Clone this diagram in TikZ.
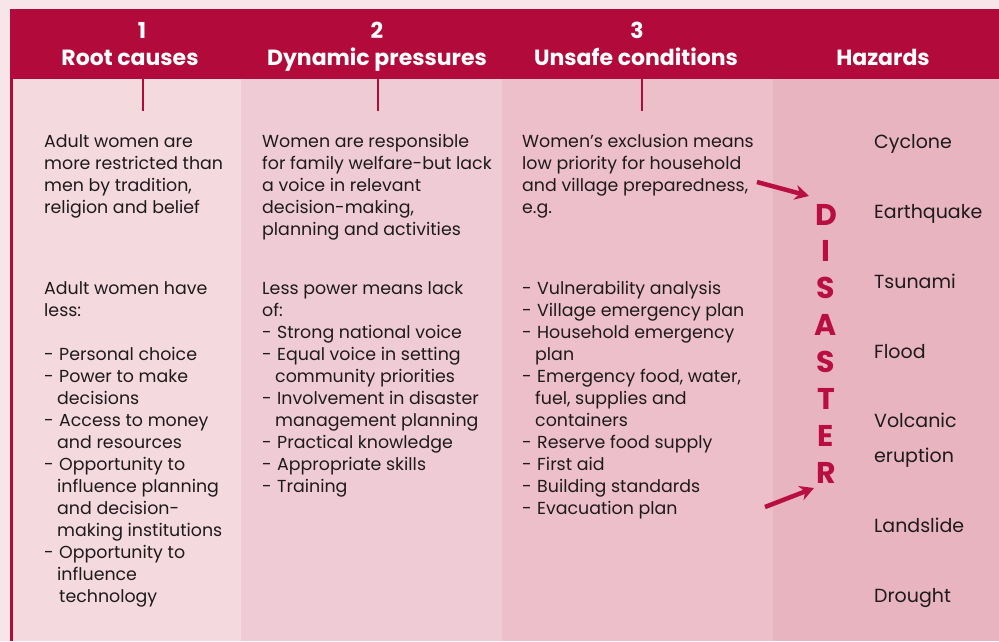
\documentclass[tikz,border=0pt]{standalone}
\usepackage{fontspec}
\setmainfont{Poppins}
\usetikzlibrary{arrows.meta}

\definecolor{bgout}{HTML}{F8E5EA}
\definecolor{colA}{HTML}{F4D9DF}
\definecolor{colB}{HTML}{EFCCD5}
\definecolor{colC}{HTML}{ECBFCA}
\definecolor{colD}{HTML}{E8B4C0}
\definecolor{crim}{HTML}{B20A3A}
\definecolor{dis}{HTML}{B80F40}
\definecolor{textc}{HTML}{1E1A1C}

\newcommand{\itm}[1]{\makebox[15pt][l]{-}#1}
\newcommand{\cnt}{\hspace*{13pt}}

\begin{document}
\begin{tikzpicture}[x=1pt,y=-1pt,
	body/.style={anchor=north west,align=left,inner sep=0pt,text=textc,
		font=\fontsize{17.4}{22}\selectfont,execute at begin node=\strut},
	head/.style={anchor=base,inner sep=0pt,text=white,font=\bfseries\fontsize{22}{24}\selectfont},
	haz/.style={anchor=base west,inner sep=0pt,text=textc,font=\fontsize{19}{22}\selectfont},
	letter/.style={anchor=base,inner sep=0pt,text=dis,font=\bfseries\fontsize{30}{30}\selectfont},
	tick/.style={draw=crim,line width=2pt},
	pointer/.style={draw=dis,line width=4.5pt,-{Stealth[length=14pt,width=15pt]}}]
\useasboundingbox (0,0) rectangle (999,641);
% background and columns
\fill[bgout] (0,0) rectangle (999,641);
\fill[colA] (12,79) rectangle (241,641);
\fill[colB] (241,79) rectangle (502,641);
\fill[colC] (502,79) rectangle (773,641);
\fill[colD] (773,79) rectangle (999,641);
\fill[crim] (10,9) rectangle (999,79);
\fill[crim] (10,79) rectangle (13,641);

% headings
\node[head] (n1) at (142,38) {1};
\node[head] (h1) at (130,65) {Root causes};
\node[head] (n2) at (377,38) {2};
\node[head] (h2) at (377,65) {Dynamic pressures};
\node[head] (n3) at (637,38) {3};
\node[head] (h3) at (636,65) {Unsafe conditions};
\node[head] (h4) at (883,65) {Hazards};

% ticks under the band
\coordinate (t1) at (143,79);
\coordinate (t2) at (378,79);
\coordinate (t3) at (642,79);
\foreach \t in {t1,t2,t3}
	\draw[tick] (\t) -- ++(0,32);

% column 1
\node[body] (rootA) at (44,134) {Adult women are\\more restricted than\\men by tradition,\\religion and belief};
\node[body] (rootB) at (44,281) {Adult women have\\less:\\[22pt]
	\itm{Personal choice}\\\itm{Power to make}\\\cnt decisions\\
	\itm{Access to money}\\\cnt and resources\\
	\itm{Opportunity to}\\\cnt influence planning\\\cnt and decision-\\\cnt making institutions\\
	\itm{Opportunity to}\\\cnt influence\\\hspace*{15pt}technology};

% column 2
\node[body] (dynA) at (262,134) {Women are responsible\\for family welfare-but lack\\a voice in relevant\\decision-making,\\planning and activities};
\node[body] (dynB) at (262,281) {Less power means lack\\of:\\
	\itm{Strong national voice}\\\itm{Equal voice in setting}\\\cnt community priorities\\
	\itm{Involvement in disaster}\\\cnt management planning\\
	\itm{Practical knowledge}\\\itm{Appropriate skills}\\\itm{Training}};

% column 3
\node[body] (unsA) at (522,134) {Women’s exclusion means\\low priority for household\\and village preparedness,\\e.g.};
\node[body] (unsB) at (522,281) {\itm{Vulnerability analysis}\\\itm{Village emergency plan}\\
	\itm{Household emergency}\\\cnt plan\\
	\itm{Emergency food, water,}\\\cnt fuel, supplies and\\\cnt containers\\
	\itm{Reserve food supply}\\\itm{First aid}\\\itm{Building standards}\\\itm{Evacuation plan}};

% hazards
\foreach \nm/\yy/\txt in {cyc/148/Cyclone,eq/218/Earthquake,tsu/288/Tsunami,fl/358/Flood,
	volA/427/Volcanic,volB/462/eruption,ls/532/Landslide,dr/602/Drought}
	\node[haz] (\nm) at (874,\yy) {\txt};

% DISASTER
\foreach \ch [count=\i] in {D,I,S,A,S,T,E,R}
	\node[letter] (L\i) at (826,{225+(\i-1)*36.86}) {\ch};

\coordinate (pa) at (757,182);
\coordinate (pb) at (809,196);
\coordinate (qa) at (765,507);
\coordinate (qb) at (814,488);
\draw[pointer] (pa) -- (pb);
\draw[pointer] (qa) -- (qb);
\end{tikzpicture}
\end{document}
